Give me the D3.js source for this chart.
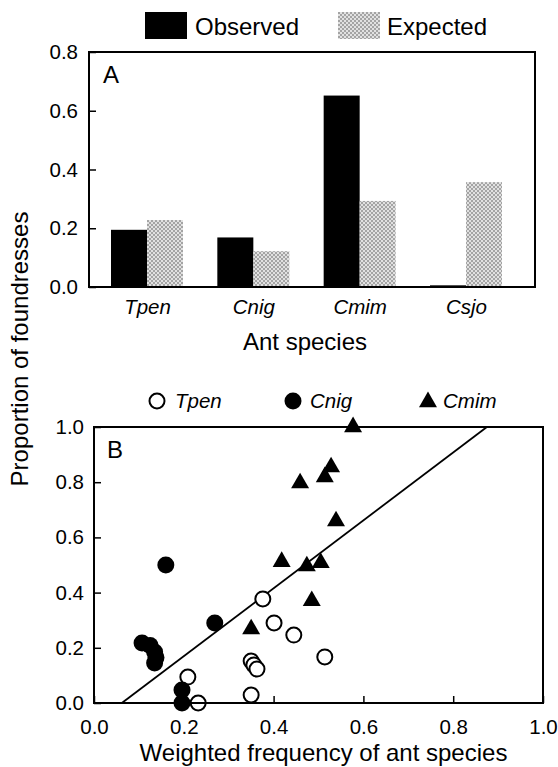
<!DOCTYPE html>
<html>
<head>
<meta charset="utf-8">
<script src="https://cdn.jsdelivr.net/npm/d3@7"></script>
<style>
  body { margin: 0; background: #fff; }
  text { font-family: "Liberation Sans", Arial, sans-serif; fill: #000; }
</style>
</head>
<body>
<div id="chart"></div>
<script>
// panel A data
var species = ["Tpen", "Cnig", "Cmim", "Csjo"];
var observed = [0.193, 0.167, 0.650, 0.004];
var expected = [0.228, 0.122, 0.293, 0.357];
var ticksA = [0.0, 0.2, 0.4, 0.6, 0.8];

// panel B data
var tpenX = [0.376, 0.401, 0.445, 0.514, 0.350, 0.356, 0.363, 0.350, 0.209, 0.232];
var tpenY = [0.377, 0.290, 0.246, 0.167, 0.152, 0.138, 0.123, 0.029, 0.094, 0.000];
var cnigX = [0.160, 0.269, 0.107, 0.125, 0.135, 0.138, 0.135, 0.196, 0.196];
var cnigY = [0.500, 0.290, 0.217, 0.208, 0.185, 0.165, 0.145, 0.047, 0.000];
var cmimX = [0.577, 0.459, 0.528, 0.514, 0.539, 0.418, 0.474, 0.505, 0.485, 0.350];
var cmimY = [1.000, 0.797, 0.855, 0.819, 0.659, 0.512, 0.496, 0.508, 0.370, 0.268];
var fitX = [0.062, 0.875];
var fitY = [0.0, 1.0];
var ticksB = [0.0, 0.2, 0.4, 0.6, 0.8, 1.0];

var svg = d3.select("#chart").append("svg")
  .attr("width", 558)
  .attr("height", 767);

// checkered fill for the expected bars
var pat = svg.append("defs").append("pattern")
  .attr("id", "checks")
  .attr("patternUnits", "userSpaceOnUse")
  .attr("width", 4).attr("height", 4);
pat.append("rect").attr("width", 4).attr("height", 4).attr("fill", "#a4a4a4");
pat.append("circle").attr("cx", 1).attr("cy", 1).attr("r", 1).attr("fill", "#f6f6f6");
pat.append("circle").attr("cx", 3).attr("cy", 3).attr("r", 1).attr("fill", "#f6f6f6");

// ---------- Panel A ----------
var a = {left: 89, top: 52, width: 446, height: 235};
var gA = svg.append("g").attr("transform", `translate(${a.left}, ${a.top})`);

var xA = d3.scalePoint().domain(species).range([58, 377]);
var yA = d3.scaleLinear().domain([0, 0.8]).range([a.height, 0]);
var barW = 36;

gA.selectAll(".obs")
  .data(observed)
  .enter()
  .append("rect")
  .attr("x", (d, i) => xA(species[i]) - barW)
  .attr("y", d => yA(d) - 0.5)
  .attr("width", barW)
  .attr("height", d => yA(0) - yA(d) + 0.5)
  .attr("fill", "#000");

gA.selectAll(".exp")
  .data(expected)
  .enter()
  .append("rect")
  .attr("x", (d, i) => xA(species[i]))
  .attr("y", d => yA(d))
  .attr("width", barW)
  .attr("height", d => yA(0) - yA(d))
  .attr("fill", "url(#checks)");

var leftA = gA.append("g")
  .call(d3.axisLeft(yA).tickValues(ticksA).tickFormat(d3.format(".1f")).tickSize(-7).tickPadding(11));
leftA.select(".domain").remove();
leftA.selectAll("line").attr("stroke-width", 1.5);
leftA.selectAll("text").attr("font-size", 20.5);

var botA = gA.append("g")
  .attr("transform", `translate(0, ${a.height})`)
  .call(d3.axisBottom(xA).tickSize(0).tickPadding(12));
botA.select(".domain").remove();
botA.selectAll("text").attr("font-size", 20.5).attr("font-style", "italic");

gA.append("rect")
  .attr("width", a.width).attr("height", a.height)
  .attr("fill", "none").attr("stroke", "#000").attr("stroke-width", 2);

gA.append("text").attr("x", 14).attr("y", 31).attr("font-size", 24).text("A");

svg.append("text")
  .attr("x", a.left + a.width / 2 - 7).attr("y", 350)
  .attr("text-anchor", "middle").attr("font-size", 24)
  .text("Ant species");

// legend A
svg.append("rect").attr("x", 145).attr("y", 12).attr("width", 42).attr("height", 27).attr("fill", "#000");
svg.append("text").attr("x", 195).attr("y", 35).attr("font-size", 24).text("Observed");
svg.append("rect").attr("x", 338).attr("y", 12).attr("width", 42).attr("height", 27).attr("fill", "url(#checks)");
svg.append("text").attr("x", 387).attr("y", 35).attr("font-size", 24).text("Expected");

// ---------- Panel B ----------
var b = {left: 94, top: 427, width: 449, height: 276};
var gB = svg.append("g").attr("transform", `translate(${b.left}, ${b.top})`);

var xB = d3.scaleLinear().domain([0, 1]).range([0, b.width]);
var yB = d3.scaleLinear().domain([0, 1]).range([b.height, 0]);

var leftB = gB.append("g")
  .call(d3.axisLeft(yB).tickValues(ticksB).tickFormat(d3.format(".1f")).tickSize(-7).tickPadding(10));
leftB.select(".domain").remove();
leftB.selectAll("line").attr("stroke-width", 1.5);
leftB.selectAll("text").attr("font-size", 20.5);

var botB = gB.append("g")
  .attr("transform", `translate(0, ${b.height})`)
  .call(d3.axisBottom(xB).tickValues(ticksB).tickFormat(d3.format(".1f")).tickSize(-7).tickPadding(16));
botB.select(".domain").remove();
botB.selectAll("line").attr("stroke-width", 1.5);
botB.selectAll("text").attr("font-size", 20.5);

// regression line
gB.append("path")
  .datum(fitX.map((d, i) => [d, fitY[i]]))
  .attr("d", d3.line().x(d => xB(d[0])).y(d => yB(d[1])))
  .attr("fill", "none").attr("stroke", "#000").attr("stroke-width", 1.8);

gB.selectAll(".tpen")
  .data(tpenX)
  .enter()
  .append("circle")
  .attr("cx", d => xB(d))
  .attr("cy", (d, i) => yB(tpenY[i]))
  .attr("r", 7.5)
  .attr("fill", "#fff").attr("stroke", "#000").attr("stroke-width", 2);

gB.selectAll(".cnig")
  .data(cnigX)
  .enter()
  .append("circle")
  .attr("cx", d => xB(d))
  .attr("cy", (d, i) => yB(cnigY[i]))
  .attr("r", 8.5)
  .attr("fill", "#000");

var tri = d3.symbol().type(d3.symbolTriangle).size(140);
gB.selectAll(".cmim")
  .data(cmimX)
  .enter()
  .append("path")
  .attr("d", tri)
  .attr("transform", (d, i) => `translate(${xB(d)}, ${yB(cmimY[i])})`)
  .attr("fill", "#000");

gB.append("rect")
  .attr("width", b.width).attr("height", b.height)
  .attr("fill", "none").attr("stroke", "#000").attr("stroke-width", 2);

gB.append("text").attr("x", 13).attr("y", 31).attr("font-size", 24).text("B");

svg.append("text")
  .attr("x", b.left + b.width / 2 + 5).attr("y", 761)
  .attr("text-anchor", "middle").attr("font-size", 24)
  .text("Weighted frequency of ant species");

svg.append("text")
  .attr("transform", "translate(28, 349) rotate(-90)")
  .attr("text-anchor", "middle").attr("font-size", 24)
  .text("Proportion of foundresses");

// legend B
svg.append("circle").attr("cx", 157).attr("cy", 401).attr("r", 7.5)
  .attr("fill", "#fff").attr("stroke", "#000").attr("stroke-width", 2);
svg.append("text").attr("x", 175).attr("y", 408).attr("font-size", 20.5).attr("font-style", "italic").text("Tpen");
svg.append("circle").attr("cx", 293).attr("cy", 401).attr("r", 8.5).attr("fill", "#000");
svg.append("text").attr("x", 310).attr("y", 408).attr("font-size", 20.5).attr("font-style", "italic").text("Cnig");
svg.append("path").attr("d", tri).attr("transform", "translate(428, 402)").attr("fill", "#000");
svg.append("text").attr("x", 443).attr("y", 408).attr("font-size", 20.5).attr("font-style", "italic").text("Cmim");
</script>
</body>
</html>
